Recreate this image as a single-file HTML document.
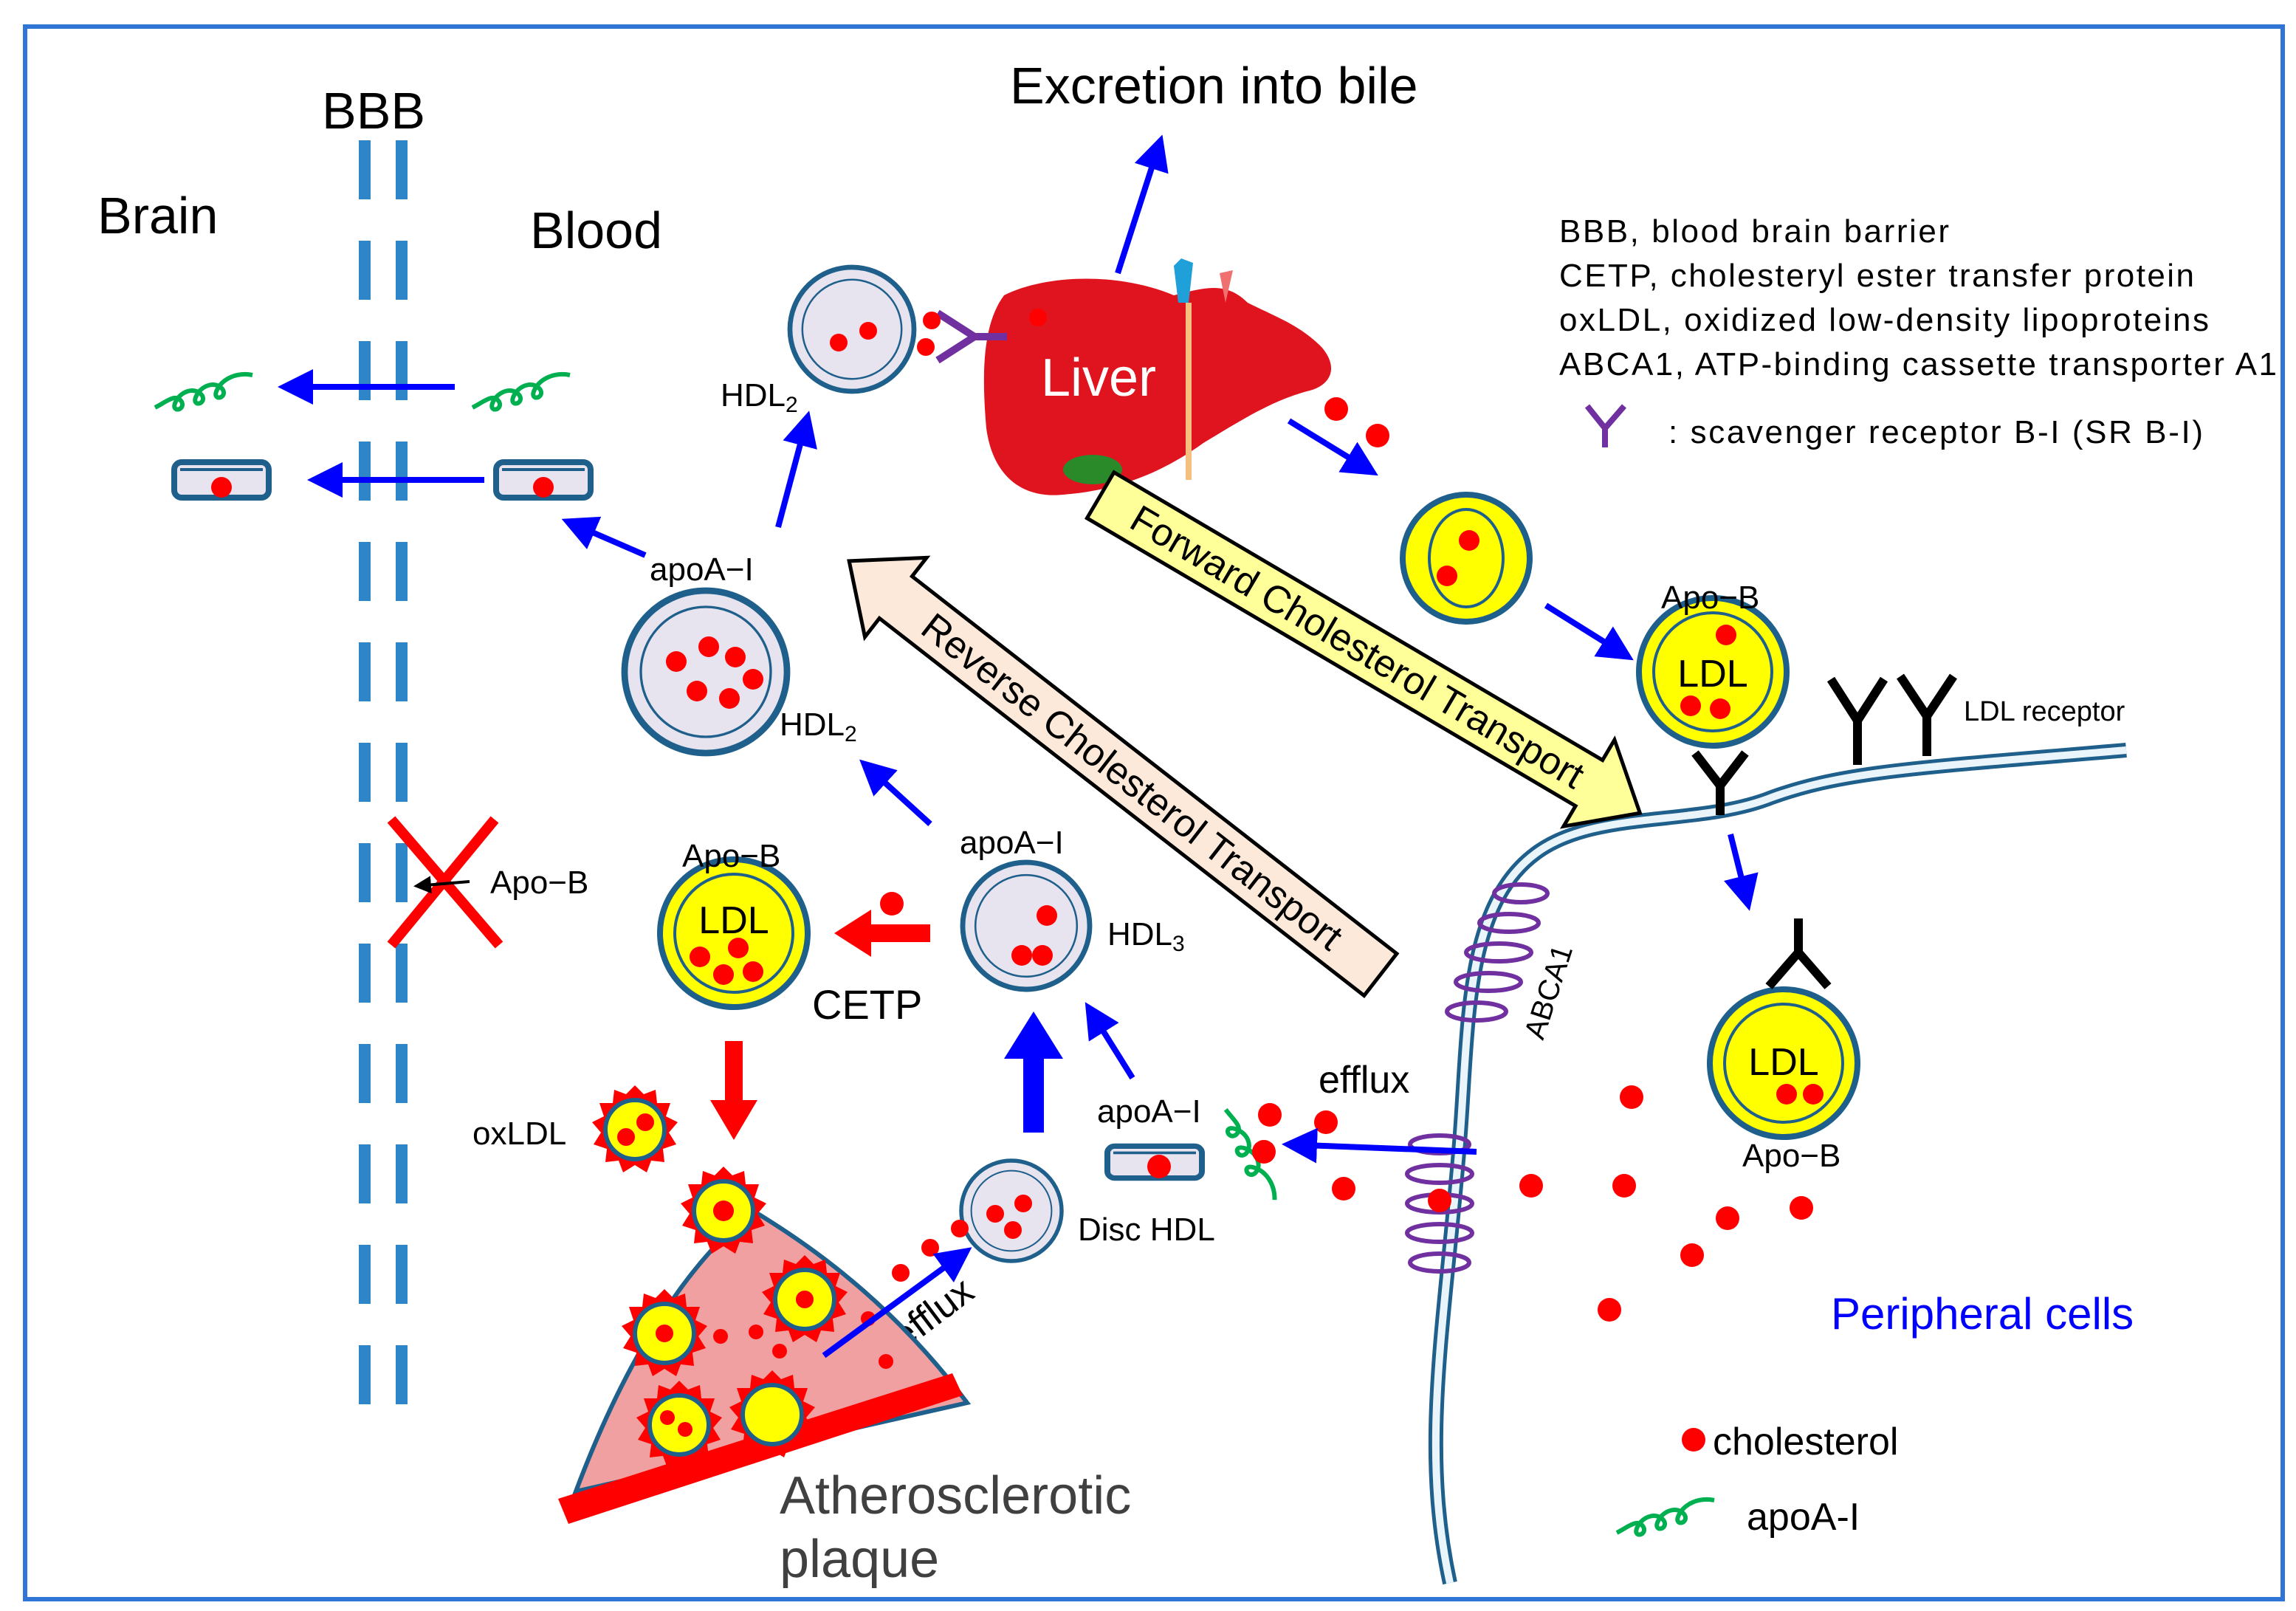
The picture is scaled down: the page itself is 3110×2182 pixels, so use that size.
<!DOCTYPE html>
<html><head><meta charset="utf-8"><style>html,body{margin:0;padding:0;background:#fff}svg{display:block}text{font-family:"Liberation Sans",sans-serif}</style></head>
<body>
<svg width="3110" height="2182" viewBox="0 0 1555 1091" xmlns="http://www.w3.org/2000/svg">
<defs>
<marker id="ab" markerWidth="6" markerHeight="6" refX="5" refY="3" orient="auto" markerUnits="strokeWidth"><path d="M0,0 L6,3 L0,6 z" fill="#0000ff"/></marker>
<marker id="ak" markerWidth="6" markerHeight="6" refX="5" refY="3" orient="auto" markerUnits="strokeWidth"><path d="M0,0 L6,3 L0,6 z" fill="#000"/></marker>
<g id="hdl"><circle r="1" fill="#e8e4ef" stroke="#1f5f8b" stroke-width="0.08"/><circle r="0.8" fill="none" stroke="#1f5f8b" stroke-width="0.03"/></g>
<g id="disc"><rect x="-32" y="-12" width="64" height="24" rx="5" fill="#e8e4ef" stroke="#1f5f8b" stroke-width="4"/><line x1="-28" y1="-7" x2="28" y2="-7" stroke="#1f5f8b" stroke-width="2"/></g>
<g id="ldl"><circle r="50" fill="#ffff00" stroke="#1f5f8b" stroke-width="4"/><circle r="40" fill="none" stroke="#1f5f8b" stroke-width="2"/></g>
<g id="ox"><polygon points="0,-30 6,-24 14,-27 15,-18 24,-18 21,-9 29,-5 23,2 28,10 19,13 20,22 11,21 8,29 0,24 -8,29 -11,21 -20,22 -19,13 -28,10 -23,2 -29,-5 -21,-9 -24,-18 -15,-18 -14,-27 -6,-24" fill="#f00"/><circle r="20" fill="#ffff00" stroke="#1f5f8b" stroke-width="3"/></g>
<path id="sq" d="M0,8 c8,-4 14,-10 18,-4 c3,6 -8,8 -4,0 c4,-8 14,-10 18,-4 c3,6 -8,8 -4,0 c4,-8 14,-10 18,-4 c3,6 -8,8 -4,0 c4,-8 14,-12 24,-10" fill="none" stroke="#00b050" stroke-width="3"/>
</defs>
<rect x="17" y="18" width="1529" height="1065" fill="#fff" stroke="#2e75d6" stroke-width="3"/>
<line x1="247" y1="95" x2="247" y2="955" stroke="#2e86c8" stroke-width="8" stroke-dasharray="40,28"/>
<line x1="272" y1="95" x2="272" y2="955" stroke="#2e86c8" stroke-width="8" stroke-dasharray="40,28"/>
<g font-size="35" fill="#000">
<text x="218" y="87">BBB</text><text x="66" y="158">Brain</text><text x="359" y="168">Blood</text>
<text x="684" y="70">Excretion into bile</text>
</g>
<g font-size="22" fill="#000">
<text x="1056" y="164" textLength="264">BBB, blood brain barrier</text>
<text x="1056" y="194" textLength="430">CETP, cholesteryl ester transfer protein</text>
<text x="1056" y="224" textLength="440">oxLDL, oxidized low-density lipoproteins</text>
<text x="1056" y="254" textLength="486">ABCA1, ATP-binding cassette transporter A1</text>
<text x="1130" y="300" textLength="362">: scavenger receptor B-I (SR B-I)</text>
</g>
<path d="M1075,275 L1087,290 L1100,275 M1087,290 L1087,303" stroke="#7030a0" stroke-width="4" fill="none"/>
<path d="M1440,508 C1300,520 1250,522 1200,540 C1150,560 1080,548 1040,578 C990,615 995,700 988,780 C978,900 962,980 982,1072" fill="none" stroke="#1f5f8b" stroke-width="10"/>
<path d="M1440,508 C1300,520 1250,522 1200,540 C1150,560 1080,548 1040,578 C990,615 995,700 988,780 C978,900 962,980 982,1072" fill="none" stroke="#eaf4fb" stroke-width="5"/>
<g fill="none" stroke="#7030a0" stroke-width="3">
<ellipse cx="1030" cy="605" rx="18" ry="6"/><ellipse cx="1022" cy="625" rx="20" ry="6"/><ellipse cx="1015" cy="645" rx="22" ry="6"/><ellipse cx="1008" cy="665" rx="22" ry="6"/><ellipse cx="1000" cy="685" rx="20" ry="6"/>
<ellipse cx="975" cy="775" rx="20" ry="6"/><ellipse cx="975" cy="795" rx="22" ry="6"/><ellipse cx="975" cy="815" rx="22" ry="6"/><ellipse cx="975" cy="835" rx="22" ry="6"/><ellipse cx="975" cy="855" rx="20" ry="6"/>
</g>
<text x="1045" y="705" font-size="20" transform="rotate(-72 1045 705)">ABCA1</text>
<path d="M680,200 C710,185 760,185 795,200 C815,195 830,190 845,205 C865,215 880,220 895,235 C908,250 900,262 885,265 C860,272 840,285 815,300 C790,318 760,332 720,335 C690,338 672,320 668,290 C665,255 665,220 680,200 z" fill="#e0141e"/>
<path d="M795,180 L800,175 L808,178 L805,205 L798,205 z" fill="#1fa0d8"/>
<path d="M826,185 L835,183 L830,205 z" fill="#f07070"/>
<line x1="805" y1="205" x2="805" y2="325" stroke="#f4c080" stroke-width="4"/>
<ellipse cx="740" cy="318" rx="20" ry="10" fill="#2a8a2a"/>
<text x="705" y="268" font-size="36" fill="#fff">Liver</text>
<circle cx="703" cy="215" r="6" fill="#f00"/>
<path d="M635,212 L660,228 L635,244 M660,228 L682,228" stroke="#7030a0" stroke-width="5" fill="none"/>
<circle cx="631" cy="217" r="6" fill="#f00"/><circle cx="627" cy="235" r="6" fill="#f00"/>
<g transform="translate(928,443) rotate(30.5)">
<polygon points="-212,-18 172,-18 172,-34 212,0 172,34 172,18 -212,18" fill="#ffff99" stroke="#000" stroke-width="2.5"/>
<text x="-10" y="9" font-size="26" text-anchor="middle">Forward Cholesterol Transport</text>
</g>
<g transform="translate(755,520) rotate(37.9)">
<polygon points="-228,0 -188,-34 -188,-18 228,-18 228,18 -188,18 -188,34" fill="#fde9d9" stroke="#000" stroke-width="2.5"/>
<text x="15" y="9" font-size="26" text-anchor="middle">Reverse Cholesterol Transport</text>
</g>
<use href="#hdl" transform="translate(577,223) scale(42)"/>
<circle cx="568" cy="232" r="6" fill="#f00"/><circle cx="588" cy="224" r="6" fill="#f00"/>
<use href="#hdl" transform="translate(478,455) scale(55)"/>
<circle cx="458" cy="448" r="7" fill="#f00"/><circle cx="480" cy="438" r="7" fill="#f00"/><circle cx="498" cy="445" r="7" fill="#f00"/><circle cx="510" cy="460" r="7" fill="#f00"/><circle cx="472" cy="468" r="7" fill="#f00"/><circle cx="494" cy="473" r="7" fill="#f00"/>
<use href="#hdl" transform="translate(695,627) scale(43)"/>
<circle cx="709" cy="620" r="7" fill="#f00"/><circle cx="692" cy="647" r="7" fill="#f00"/><circle cx="706" cy="647" r="7" fill="#f00"/>
<use href="#hdl" transform="translate(685,820) scale(34)"/>
<circle cx="674" cy="822" r="6" fill="#f00"/><circle cx="693" cy="815" r="6" fill="#f00"/><circle cx="686" cy="833" r="6" fill="#f00"/>
<use href="#disc" transform="translate(150,325)"/><circle cx="150" cy="330" r="7" fill="#f00"/>
<use href="#disc" transform="translate(368,325)"/><circle cx="368" cy="330" r="7" fill="#f00"/>
<use href="#disc" transform="translate(782,787) scale(1,0.9)"/><circle cx="785" cy="790" r="8" fill="#f00"/>
<use href="#sq" transform="translate(105,268)"/>
<use href="#sq" transform="translate(320,268)"/>
<use href="#sq" transform="translate(1095,1030)"/>
<use href="#sq" transform="translate(838,750) rotate(80)"/>
<use href="#ldl" transform="translate(1160,455)"/>
<text x="1160" y="465" font-size="26" text-anchor="middle">LDL</text>
<circle cx="1169" cy="430" r="7" fill="#f00"/><circle cx="1145" cy="478" r="7" fill="#f00"/><circle cx="1165" cy="480" r="7" fill="#f00"/>
<use href="#ldl" transform="translate(497,632)"/>
<text x="497" y="632" font-size="26" text-anchor="middle">LDL</text>
<circle cx="500" cy="642" r="7" fill="#f00"/><circle cx="474" cy="648" r="7" fill="#f00"/><circle cx="490" cy="660" r="7" fill="#f00"/><circle cx="510" cy="658" r="7" fill="#f00"/>
<use href="#ldl" transform="translate(1208,720)"/>
<text x="1208" y="728" font-size="26" text-anchor="middle">LDL</text>
<circle cx="1210" cy="741" r="7" fill="#f00"/><circle cx="1228" cy="741" r="7" fill="#f00"/>
<ellipse cx="993" cy="378" rx="43" ry="43" fill="#ffff00" stroke="#1f5f8b" stroke-width="4"/>
<ellipse cx="993" cy="378" rx="25" ry="33" fill="none" stroke="#1f5f8b" stroke-width="2"/>
<circle cx="995" cy="366" r="7" fill="#f00"/><circle cx="980" cy="390" r="7" fill="#f00"/>
<g stroke="#000" stroke-width="6" fill="none">
<path d="M1240,460 L1258,488 L1276,460 M1258,488 L1258,518"/>
<path d="M1287,458 L1305,485 L1323,458 M1305,485 L1305,512"/>
<path d="M1148,510 L1165,532 L1182,510 M1165,532 L1165,552"/>
<path d="M1218,622 L1218,645 M1218,645 L1198,668 M1218,645 L1238,668"/>
</g>
<g font-size="22" fill="#000">
<text x="1125" y="412">Apo−B</text>
<text x="1330" y="488" font-size="19">LDL receptor</text>
<text x="1180" y="790">Apo−B</text>
<text x="462" y="587">Apo−B</text>
<text x="440" y="393">apoA−I</text>
<text x="650" y="578">apoA−I</text>
<text x="743" y="760">apoA−I</text>
<text x="488" y="275">HDL<tspan font-size="15" dy="4">2</tspan></text>
<text x="528" y="498">HDL<tspan font-size="15" dy="4">2</tspan></text>
<text x="750" y="640">HDL<tspan font-size="15" dy="4">3</tspan></text>
<text x="730" y="840">Disc HDL</text>
<text x="332" y="605">Apo−B</text>
<text x="320" y="775">oxLDL</text>
<text x="893" y="740" font-size="26">efflux</text>
<text x="612" y="915" font-size="26" transform="rotate(-37 612 915)">efflux</text>
<text x="550" y="690" font-size="28">CETP</text>
<text x="1160" y="985" font-size="26">cholesterol</text>
<text x="1183" y="1036" font-size="26">apoA-I</text>
</g>
<text x="1240" y="900" font-size="30" fill="#0000ff">Peripheral cells</text>
<text x="528" y="1025" font-size="36" fill="#404040">Atherosclerotic</text>
<text x="528" y="1068" font-size="36" fill="#404040">plaque</text>
<path d="M390,1010 C420,930 460,860 510,820 C560,850 610,890 655,950 z" fill="#f0a0a0" stroke="#1f5f8b" stroke-width="3"/>
<polygon points="378,1015 645,930 652,945 385,1032" fill="#f00"/>
<use href="#ox" transform="translate(430,765)"/><circle cx="424" cy="770" r="6" fill="#f00"/><circle cx="437" cy="760" r="6" fill="#f00"/>
<use href="#ox" transform="translate(490,820)"/><circle cx="490" cy="820" r="7" fill="#f00"/>
<use href="#ox" transform="translate(450,903)"/><circle cx="450" cy="903" r="6" fill="#f00"/>
<use href="#ox" transform="translate(545,880)"/><circle cx="545" cy="880" r="6" fill="#f00"/>
<use href="#ox" transform="translate(460,965)"/><circle cx="452" cy="960" r="5" fill="#f00"/><circle cx="464" cy="968" r="5" fill="#f00"/>
<use href="#ox" transform="translate(523,958)"/>
<g fill="#f00">
<circle cx="488" cy="905" r="5"/><circle cx="512" cy="902" r="5"/><circle cx="528" cy="915" r="5"/><circle cx="588" cy="893" r="5"/><circle cx="600" cy="922" r="5"/>
<circle cx="610" cy="862" r="6"/><circle cx="630" cy="845" r="6"/><circle cx="650" cy="832" r="6"/>
<circle cx="905" cy="277" r="8"/><circle cx="933" cy="295" r="8"/>
<circle cx="604" cy="612" r="8"/>
<circle cx="860" cy="755" r="8"/><circle cx="898" cy="760" r="8"/><circle cx="856" cy="780" r="8"/>
<circle cx="910" cy="805" r="8"/><circle cx="1037" cy="803" r="8"/><circle cx="1100" cy="803" r="8"/><circle cx="1105" cy="743" r="8"/>
<circle cx="1170" cy="825" r="8"/><circle cx="1220" cy="818" r="8"/><circle cx="1146" cy="850" r="8"/><circle cx="1090" cy="887" r="8"/><circle cx="975" cy="813" r="8"/>
<circle cx="1147" cy="975" r="8"/>
</g>
<g stroke="#0000ff" stroke-width="4" fill="none" marker-end="url(#ab)">
<line x1="757" y1="185" x2="786" y2="95"/>
<line x1="308" y1="262" x2="192" y2="262"/>
<line x1="328" y1="325" x2="212" y2="325"/>
<line x1="527" y1="357" x2="547" y2="282"/>
<line x1="437" y1="376" x2="384" y2="353"/>
<line x1="630" y1="558" x2="585" y2="517"/>
<line x1="767" y1="730" x2="737" y2="682"/>
<line x1="873" y1="285" x2="930" y2="320"/>
<line x1="1047" y1="410" x2="1103" y2="445"/>
<line x1="1172" y1="565" x2="1184" y2="613"/>
<line x1="1000" y1="780" x2="872" y2="775"/>
<line x1="558" y1="918" x2="655" y2="847"/>
</g>
<polygon points="693,767 707,767 707,717 720,717 700,685 680,717 693,717" fill="#0000ff"/>
<polygon points="630,626 630,638 590,638 590,648 565,632 590,616 590,626" fill="#f00"/>
<polygon points="491,705 503,705 503,745 513,745 497,772 481,745 491,745" fill="#f00"/>
<path d="M265,555 L338,640 M335,555 L265,640" stroke="#f00" stroke-width="7"/>
<line x1="318" y1="597" x2="282" y2="600" stroke="#000" stroke-width="2" marker-end="url(#ak)"/>
</svg>
</body></html>
